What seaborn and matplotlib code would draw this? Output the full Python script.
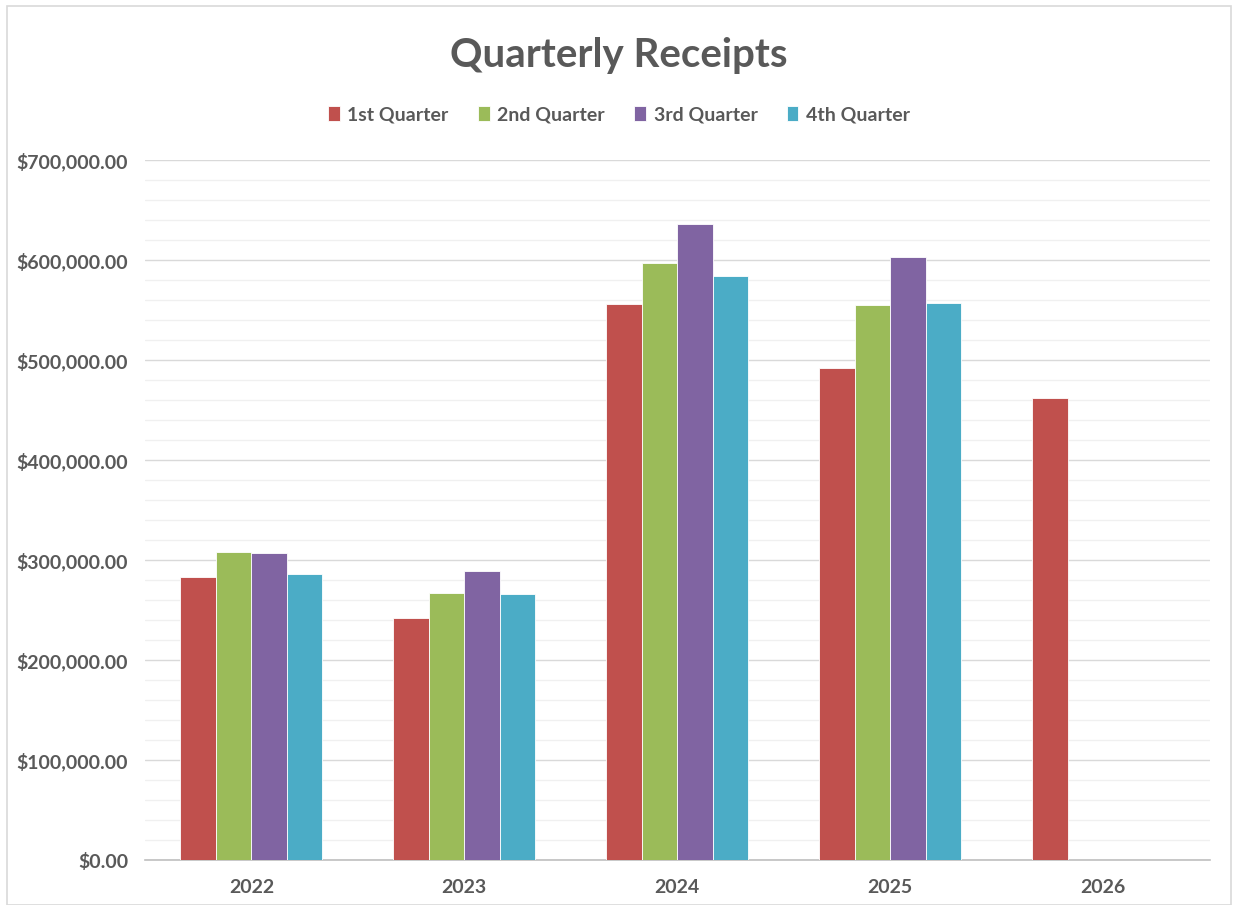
import seaborn as sns
import matplotlib.pyplot as plt
import pandas as pd
from matplotlib.ticker import FuncFormatter, MultipleLocator
from matplotlib.patches import Rectangle

# data
years = ["2022", "2023", "2024", "2025", "2026"]
quarters = ["1st Quarter", "2nd Quarter", "3rd Quarter", "4th Quarter"]
q1 = [282700, 242300, 556300, 491700, 461700]
q2 = [307700, 267000, 597000, 554700, None]
q3 = [306700, 288700, 636300, 603300, None]
q4 = [286000, 266300, 584000, 556700, None]
colors = ["#C0504D", "#9BBB59", "#8064A2", "#4BACC6"]

rows = []
for qname, vals in zip(quarters, [q1, q2, q3, q4]):
    for yr, v in zip(years, vals):
        if v is not None:
            rows.append({"year": yr, "quarter": qname, "value": v})
df = pd.DataFrame(rows)

sns.set_theme(style="white")
plt.rcParams["font.family"] = ["Lato", "DejaVu Sans"]
text_color = "#595959"

fig = plt.figure(figsize=(12.38, 9.05), dpi=100)
ax = fig.add_axes([0.117, 0.0497, 0.86, 0.7733])

sns.barplot(
    data=df, x="year", y="value", hue="quarter",
    order=years, hue_order=quarters, palette=colors,
    width=0.667, errorbar=None, edgecolor="white", linewidth=0.6,
    saturation=1, ax=ax, zorder=3
)

ax.set_ylim(0, 700000)
ax.set_xlim(-0.5, 4.5)
ax.yaxis.set_major_locator(MultipleLocator(100000))
ax.yaxis.set_minor_locator(MultipleLocator(20000))
ax.yaxis.set_major_formatter(FuncFormatter(lambda v, p: f"${v:,.2f}"))
ax.grid(axis="y", which="major", color="#d9d9d9", linewidth=1.0, zorder=0)
ax.grid(axis="y", which="minor", color="#f0f0f0", linewidth=1.0, zorder=0)
ax.set_axisbelow(True)
for side in ["left", "right", "top"]:
    ax.spines[side].set_visible(False)
ax.spines["bottom"].set_color("#bfbfbf")
ax.spines["bottom"].set_linewidth(1.2)
ax.tick_params(axis="both", which="both", length=0, labelsize=14, colors=text_color)
ax.tick_params(axis="x", pad=14)
ax.tick_params(axis="y", pad=12)
for lbl in ax.get_xticklabels() + ax.get_yticklabels():
    lbl.set_fontweight("bold")
ax.set_xlabel("")
ax.set_ylabel("")

handles, labels = ax.get_legend_handles_labels()
ax.legend_.remove()
fig.legend(handles, labels, loc="center", bbox_to_anchor=(0.5, 0.873), ncol=4,
           frameon=False, handlelength=0.6, handleheight=0.8, handletextpad=0.4,
           columnspacing=1.5, prop={"size": 14, "weight": "bold"},
           labelcolor=text_color)

fig.text(0.5, 0.939, "Quarterly Receipts", ha="center", va="center",
         fontsize=29, fontweight="bold", color=text_color)

fig.patches.append(Rectangle((0.006, 0.0), 0.988, 0.993, transform=fig.transFigure,
                             fill=False, edgecolor="#d9d9d9", linewidth=1.2))

fig.savefig("out.png", dpi=100)
